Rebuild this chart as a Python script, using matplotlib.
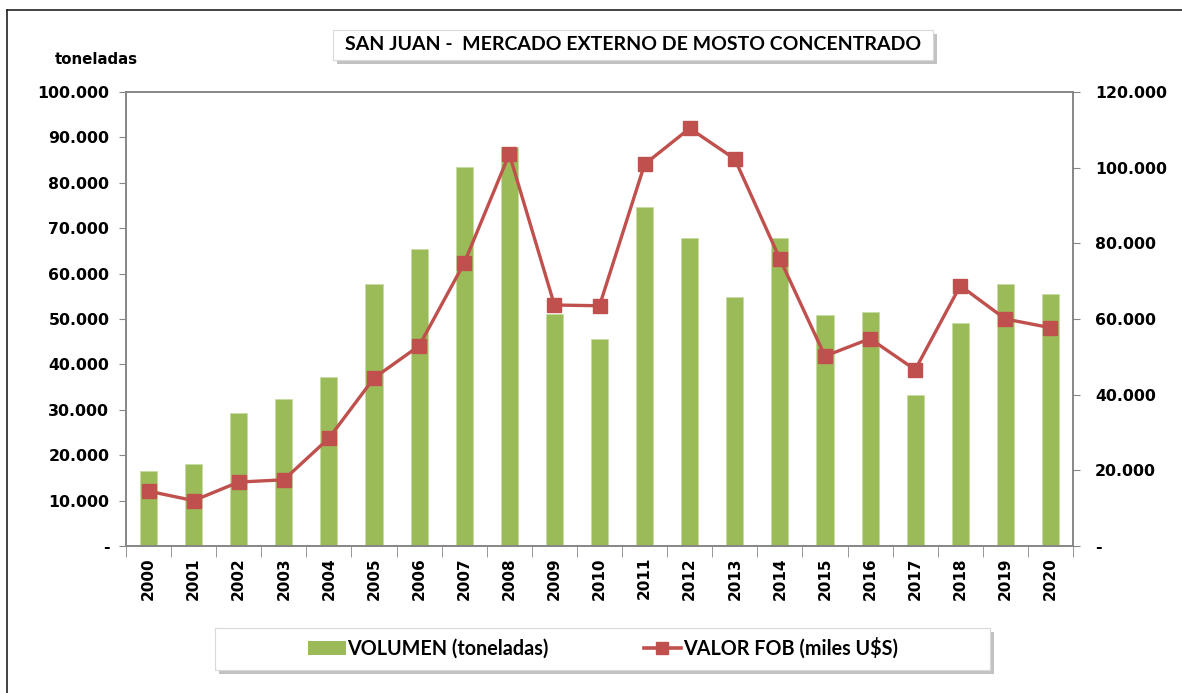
import matplotlib
matplotlib.use("Agg")
import matplotlib.pyplot as plt
from matplotlib.lines import Line2D
from matplotlib.patches import Rectangle, Patch
from matplotlib.ticker import FuncFormatter

# --- data ----------------------------------------------------------------- #
YEARS = [str(y) for y in range(2000, 2021)]
VOLUMEN_TN = [16500, 18000, 29300, 32300, 37200, 57700, 65400, 83500, 87800,
              51100, 45700, 74700, 67900, 54900, 67900, 50800, 51600, 33300,
              49100, 57700, 55400]
VALOR_FOB = [14500, 12000, 16900, 17500, 28500, 44400, 52900, 74800, 103600,
             63700, 63500, 100900, 110400, 102300, 75900, 50200, 54800, 46600,
             68800, 60000, 57700]

GREEN = "#9BBB59"
RED = "#C0504D"
SPINE = "#868686"
TITLE = "SAN JUAN -  MERCADO EXTERNO DE MOSTO CONCENTRADO"


def miles(v, _pos):
    if abs(v) < 1e-9:
        return "-"
    return f"{v:,.0f}".replace(",", ".")


def main():
    W, H = 1182, 693
    fig = plt.figure(figsize=(W / 100, H / 100), dpi=100)
    ax = fig.add_axes([126 / W, 1 - 546 / H, (1073 - 126) / W, (546 - 92) / H])
    ax2 = ax.twinx()

    x = list(range(len(YEARS)))
    ax.bar(x, VOLUMEN_TN, width=0.38, color=GREEN, edgecolor="#C9DBA3", lw=0.6,
           zorder=2)
    ax2.plot(x, VALOR_FOB, "s-", color=RED, lw=2.4, ms=10, zorder=3)

    ax.set_xlim(-0.5, len(YEARS) - 0.5)
    ax.set_ylim(0, 100000)
    ax2.set_ylim(0, 120000)
    ax.set_yticks(range(0, 100001, 10000))
    ax2.set_yticks(range(0, 120001, 20000))
    ax.yaxis.set_major_formatter(FuncFormatter(miles))
    ax2.yaxis.set_major_formatter(FuncFormatter(miles))

    # category labels at centres, tick marks at the boundaries
    ax.set_xticks(x)
    ax.set_xticklabels(YEARS, rotation=90, fontsize=11, fontweight="bold")
    ax.tick_params(axis="x", which="major", length=0, pad=8)
    ax.set_xticks([i - 0.5 for i in range(len(YEARS) + 1)], minor=True)
    ax.tick_params(axis="x", which="minor", length=8, color=SPINE, direction="out")

    ax.tick_params(axis="y", length=5, color=SPINE, labelsize=11.3, pad=7)
    ax2.tick_params(axis="y", length=5, color=SPINE, labelsize=11.3, pad=11)
    for lab in ax.get_yticklabels() + ax2.get_yticklabels():
        lab.set_fontweight("bold")

    for a in (ax, ax2):
        for s in a.spines.values():
            s.set_color(SPINE)
            s.set_linewidth(1.2)
    ax.set_zorder(ax2.get_zorder() - 1)
    ax2.patch.set_visible(False)

    fig.text(55 / W, 1 - 60 / H, "toneladas", fontsize=10.8, fontweight="bold",
             va="center", ha="left")

    # title box with shadow
    tx0, ty0, tw, th = 333, 30, 600, 30
    fig.patches.append(Rectangle(((tx0 + 4) / W, 1 - (ty0 + th + 4) / H), tw / W, th / H,
                                 transform=fig.transFigure, facecolor="#9A9A9A",
                                 edgecolor="none", alpha=0.6, zorder=1))
    fig.patches.append(Rectangle((tx0 / W, 1 - (ty0 + th) / H), tw / W, th / H,
                                 transform=fig.transFigure, facecolor="white",
                                 edgecolor="#D9D9D9", lw=0.8, zorder=2))
    fig.text((tx0 + tw / 2) / W, 1 - (ty0 + th / 2) / H, TITLE, fontsize=14,
             fontweight="bold", family="Lato", ha="center", va="center", zorder=3)

    # legend box with shadow
    lx0, ly0, lw_, lh = 215, 628, 775, 42
    fig.patches.append(Rectangle(((lx0 + 4) / W, 1 - (ly0 + lh + 4) / H), lw_ / W, lh / H,
                                 transform=fig.transFigure, facecolor="#9A9A9A",
                                 edgecolor="none", alpha=0.6, zorder=1))
    fig.patches.append(Rectangle((lx0 / W, 1 - (ly0 + lh) / H), lw_ / W, lh / H,
                                 transform=fig.transFigure, facecolor="white",
                                 edgecolor="#D9D9D9", lw=0.8, zorder=2))
    handles = [Patch(facecolor=GREEN, edgecolor="none"),
               Line2D([], [], color=RED, marker="s", lw=2.6, ms=9)]
    leg = fig.legend(handles, ["VOLUMEN (toneladas)", "VALOR FOB (miles U$S)"],
                     loc="center", bbox_to_anchor=(603 / W, 1 - 648 / H), ncol=2,
                     frameon=False, handlelength=1.9, handletextpad=0.1,
                     columnspacing=4.8, prop={"family": "Lato", "weight": "bold",
                                              "size": 14.2})
    leg.set_zorder(4)

    # thin outer frame (left and top edges only)
    fig.add_artist(Line2D([7 / W, 7 / W], [0, 1 - 10 / H], color="#222222", lw=1.2,
                          transform=fig.transFigure))
    fig.add_artist(Line2D([7 / W, 1], [1 - 10 / H, 1 - 10 / H], color="#222222", lw=1.2,
                          transform=fig.transFigure))

    fig.savefig("out.png", dpi=100, facecolor="white")


if __name__ == "__main__":
    main()
